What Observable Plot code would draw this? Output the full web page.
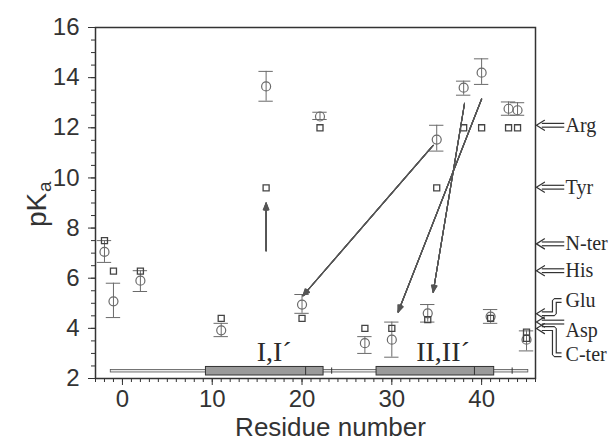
<!DOCTYPE html>
<html><head><meta charset="utf-8">
<script src="https://cdn.jsdelivr.net/npm/d3@7"></script>
<script src="https://cdn.jsdelivr.net/npm/@observablehq/plot@0.6"></script>
<style>body{margin:0;background:#fff} svg{display:block}</style>
</head><body><div id="chart"></div>
<script>
// ---- data ----
// calculated pKa (circles) with error bars
const calcResidue = [-2, -1, 2, 11, 16, 20, 22, 27, 30, 34, 35, 38, 40, 41, 43, 44, 45];
const calcPka     = [7.05, 5.08, 5.9, 3.92, 13.65, 4.95, 12.45, 3.41, 3.55, 4.6, 11.53, 13.6, 14.2, 4.47, 12.76, 12.7, 3.55];
const calcLow     = [6.63, 4.43, 5.47, 3.67, 13.06, 4.6, 12.33, 3.0, 2.85, 4.25, 11.07, 13.3, 13.73, 4.2, 12.5, 12.5, 3.1];
const calcHigh    = [7.5, 5.8, 6.3, 4.2, 14.25, 5.35, 12.62, 3.67, 4.25, 4.95, 12.1, 13.86, 14.75, 4.75, 13.03, 13.0, 3.9];
// experimental pKa (squares)
const expResidue = [-2, -1, 2, 11, 16, 20, 22, 27, 30, 34, 35, 38, 40, 41, 43, 44, 45, 45];
const expPka     = [7.5, 6.28, 6.28, 4.4, 9.6, 4.4, 12.0, 4.0, 4.0, 4.35, 9.6, 12.0, 12.0, 4.4, 12.0, 12.0, 3.85, 3.6];
// shift arrows
const arrowFromRes = [16, 34.6, 38.1, 40.0];
const arrowFromPka = [7.1, 11.3, 12.98, 13.15];
const arrowToRes   = [16, 20.1, 34.6, 30.7];
const arrowToPka   = [9.0, 5.3, 5.44, 4.65];
// secondary structure
const chainStart = -1.3, chainEnd = 45.2;
const strandStart = [9.3, 28.3];
const strandEnd   = [22.4, 41.4];
const strandSplit = [20.4, 39.2];
const turnTicks   = [23.3, 43.4];
const strandLabels = ["I,I\u00B4", "II,II\u00B4"];
const strandLabelRes = [16.9, 35.7];
// model-compound reference values on the right
const refLabels = ["Arg", "Tyr", "N-ter", "His"];
const refPka    = [12.1, 9.63, 7.37, 6.3];
const bentLabels = ["Glu", "Asp", "C-ter"];
const bentPka    = [4.58, 4.25, 3.99];
const bentTextPka = [5.11, 3.93, 2.95];
// axes
const xTicks = [0, 10, 20, 30, 40];
const yTicks = [2, 4, 6, 8, 10, 12, 14, 16];

// ---- tables ----
const calc = calcResidue.map((x, i) => ({x, y: calcPka[i], lo: calcLow[i], hi: calcHigh[i]}));
const exp = expResidue.map((x, i) => ({x, y: expPka[i]}));
const arrows = arrowFromRes.map((x1, i) => ({x1, y1: arrowFromPka[i], x2: arrowToRes[i], y2: arrowToPka[i]}));
const strands = strandStart.map((s, i) => ({s, e: strandEnd[i], m: strandSplit[i]}));
const refs = refLabels.map((t, i) => ({t, y: refPka[i]}));
const tipX = 46.1, headX = 47.0, endX = 49.2, bendX = 48.1;
const shafts = [];
refs.forEach((r, i) => { shafts.push({k: "r" + i, x: headX - 0.3, y: r.y}, {k: "r" + i, x: endX, y: r.y}); });
bentLabels.forEach((t, i) => {
  const y = bentPka[i], ty = bentTextPka[i];
  if (t === "Asp") shafts.push({k: "b" + i, x: headX - 0.3, y}, {k: "b" + i, x: endX, y});
  else shafts.push({k: "b" + i, x: headX - 0.3, y}, {k: "b" + i, x: bendX, y}, {k: "b" + i, x: bendX, y: ty}, {k: "b" + i, x: endX - 0.3, y: ty});
});
const heads = [];
[...refPka, ...bentPka].forEach((y, i) => {
  heads.push({k: i, x: headX, y: y + 0.2}, {k: i, x: tipX, y}, {k: i, x: headX, y: y - 0.2});
});
const bentText = bentLabels.map((t, i) => ({t, y: bentTextPka[i]}));

const gray = "#6a6a6a";
const ink = "#2a2a2a";
const serif = "Liberation Serif, Times New Roman, serif";

const marks = [
  // secondary structure
  Plot.rect([0], {x1: chainStart, x2: chainEnd, y1: 2.24, y2: 2.34, fill: "#e8e8e8", stroke: "#555", strokeWidth: 0.8}),
  Plot.rect(strands, {x1: "s", x2: "e", y1: 2.12, y2: 2.46, fill: "#9a9a9a", stroke: "#333", strokeWidth: 1}),
  Plot.ruleX(strands, {x: "m", y1: 2.12, y2: 2.46, stroke: "#333", strokeWidth: 1}),
  Plot.ruleX(turnTicks, {x: d => d, y1: 2.17, y2: 2.42, stroke: "#333", strokeWidth: 1}),
  Plot.text(strandLabels, {x: (d, i) => strandLabelRes[i], y: 3.05, text: d => d, fontFamily: serif, fontSize: 28, fill: ink}),
  // error bars
  Plot.ruleX(calc, {x: "x", y1: "lo", y2: "hi", stroke: gray, strokeWidth: 1}),
  Plot.ruleY(calc, {y: "lo", x1: d => d.x - 0.8, x2: d => d.x + 0.8, stroke: gray, strokeWidth: 1}),
  Plot.ruleY(calc, {y: "hi", x1: d => d.x - 0.8, x2: d => d.x + 0.8, stroke: gray, strokeWidth: 1}),
  // markers
  Plot.dot(calc, {x: "x", y: "y", r: 4.5, stroke: gray, strokeWidth: 1.2, fill: "none"}),
  Plot.dot(exp, {x: "x", y: "y", symbol: "square", r: 3.4, stroke: "#444", strokeWidth: 1.3, fill: "none"}),
  // arrows
  ...[6, 14, 22, 30, 38, 46].map(a => Plot.arrow(arrows, {x1: "x1", y1: "y1", x2: "x2", y2: "y2", stroke: "#555", strokeWidth: 1.1, headAngle: a, headLength: 10})),
  // right-side reference arrows
  Plot.line(shafts, {x: "x", y: "y", z: "k", stroke: "#333", strokeWidth: 5, strokeLinejoin: "miter", strokeLinecap: "butt"}),
  Plot.line(shafts, {x: d => d.x, y: "y", z: "k", stroke: "white", strokeWidth: 2.6, strokeLinejoin: "miter", strokeLinecap: "square"}),
  Plot.line(heads, {x: "x", y: "y", z: "k", stroke: "#333", strokeWidth: 1.2}),
  Plot.text(refs, {x: 49.35, y: "y", text: "t", textAnchor: "start", fontFamily: serif, fontSize: 20, fill: ink}),
  Plot.text(bentText, {x: 49.35, y: "y", text: "t", textAnchor: "start", fontFamily: serif, fontSize: 20, fill: ink}),
  // axes
  Plot.frame({stroke: "#333", strokeWidth: 1.5}),
  Plot.axisX({ticks: d3.range(-3, 47, 1), tickSize: 4, tickFormat: () => "", label: null, stroke: "#333"}),
  Plot.axisX({ticks: xTicks, tickSize: 7, tickPadding: 4, fontSize: 24, label: null, color: "#333"}),
  Plot.axisY({ticks: d3.range(2, 16.01, 0.5), tickSize: 4, tickFormat: () => "", label: null, stroke: "#333"}),
  Plot.axisY({ticks: yTicks, tickSize: 7, tickPadding: 9, fontSize: 24, label: null, color: "#333"}),
  Plot.text(["Residue number"], {frameAnchor: "bottom", dx: 15, dy: 57, fontSize: 26, fill: "#333"}),
  Plot.text(["pK"], {frameAnchor: "left", rotate: -90, textAnchor: "start", dx: -58, dy: 24, fontSize: 28, fill: "#333"}),
  Plot.text(["a"], {frameAnchor: "left", rotate: -90, textAnchor: "start", dx: -51, dy: -11, fontSize: 19, fill: "#333"})
];

const chart = Plot.plot({
  width: 611, height: 448,
  marginLeft: 95, marginRight: 76, marginTop: 27, marginBottom: 70,
  x: {domain: [-3, 46]},
  y: {domain: [2, 16]},
  style: {fontFamily: "Liberation Sans, Arial, sans-serif", background: "#fff", overflow: "visible"},
  marks
});
document.getElementById("chart").appendChild(chart);
</script>
</body></html>
